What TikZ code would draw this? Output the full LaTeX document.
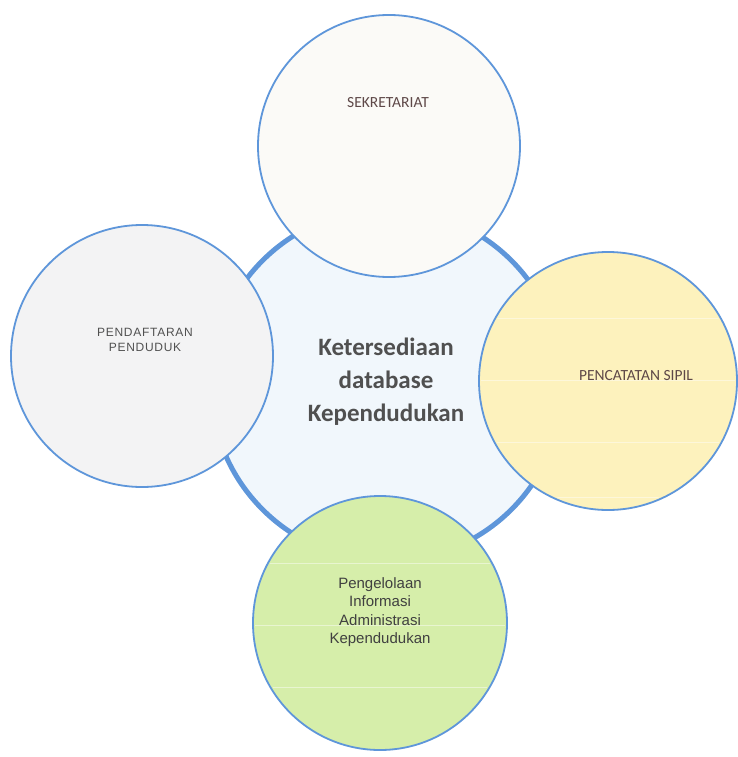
\documentclass[tikz,border=0pt]{standalone}
\usepackage{fontspec}
\newfontfamily\carlito{Carlito}
\newfontfamily\arialf{Liberation Sans}

\definecolor{garis}{HTML}{5E96DA}
\definecolor{isitengah}{HTML}{F1F7FC}
\definecolor{isiatas}{HTML}{FBFAF7}
\definecolor{isikiri}{HTML}{F3F3F4}
\definecolor{isikanan}{HTML}{FDF2BD}
\definecolor{isibawah}{HTML}{D6EEAA}
\definecolor{tekstua}{HTML}{505050}
\definecolor{teksmerah}{HTML}{5E4848}

\tikzset{
  bidang/.style={circle, draw=garis, line width=1.8pt, inner sep=0pt},
  teks/.style={align=center, inner sep=0pt, text=tekstua},
  garut/.style={white, line width=1pt, opacity=0.45}
}

\begin{document}
\begin{tikzpicture}[x=1pt, y=-1pt]
    \useasboundingbox[fill=white] (0,0) rectangle (738,757);

    % Lingkaran tengah
    \node[bidang, line width=5pt, fill=isitengah, minimum size=352pt] (db) at (387,385) {};

    % Empat bidang di sekelilingnya
    \node[bidang, fill=isiatas, minimum size=262pt] (sekr) at (389,146) {};
    \node[bidang, fill=isikiri, minimum size=262pt] (daftar) at (142,356) {};
    \node[bidang, fill=isikanan, minimum size=258pt] (capil) at (608,381) {};
    \node[bidang, fill=isibawah, minimum size=254pt] (pia) at (380,623) {};

    % Garis tipis putih di dalam lingkaran berwarna
    \begin{scope}
      \clip (608,381) circle (127pt);
      \foreach \y in {318,380,442,497} \draw[garut] (470,\y) -- (740,\y);
    \end{scope}
    \begin{scope}
      \clip (380,623) circle (125pt);
      \foreach \y in {563,625,687} \draw[garut] (250,\y) -- (510,\y);
    \end{scope}

    % Teks
    \node[teks, font=\bfseries\carlito\fontsize{25}{33}\selectfont] (tdb) at (386,382)
      {Ketersediaan\\database\\Kependudukan};
    \node[teks, text=teksmerah, font=\carlito\fontsize{15.5}{18}\selectfont] (tsekr) at (388,103) {SEKRETARIAT};
    \node[teks, font=\arialf\addfontfeature{LetterSpace=6}\fontsize{12}{15}\selectfont] (tdaftar) at (145,340)
      {PENDAFTARAN\\PENDUDUK};
    \node[teks, text=teksmerah, font=\carlito\fontsize{15.5}{18}\selectfont] (tcapil) at (636,376) {PENCATATAN SIPIL};
    \node[teks, text=black!75, font=\arialf\fontsize{15}{18.5}\selectfont] (tpia) at (380,612)
      {Pengelolaan\\Informasi\\Administrasi\\Kependudukan};
\end{tikzpicture}
\end{document}
